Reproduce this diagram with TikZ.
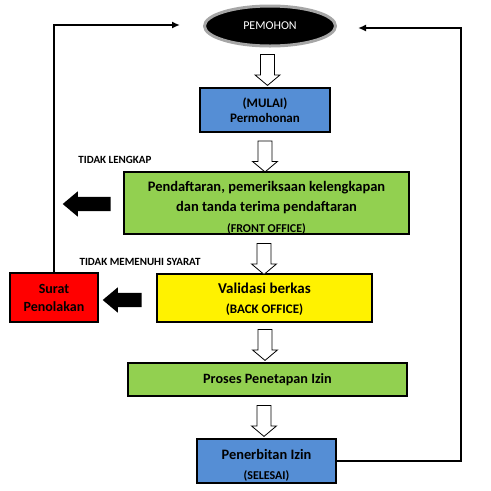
\documentclass[tikz,border=0pt]{standalone}
\usepackage{fontspec}
\setmainfont{Carlito}
\usetikzlibrary{shapes.geometric,shapes.arrows,arrows.meta}

\definecolor{boxblue}{RGB}{85,142,213}
\definecolor{boxgreen}{RGB}{146,208,80}

\tikzset{
  stepbox/.style={draw, line width=1.2pt, inner sep=0pt},
  hollow/.style={single arrow, draw, line width=0.8pt, fill=white, inner xsep=0pt, inner ysep=6.5pt,
    minimum width=25pt, minimum height=31pt, single arrow head extend=5.5pt,
    single arrow tip angle=100, rotate=-90},
  solid arrow/.style={single arrow, fill=black, inner xsep=0pt, inner ysep=7pt,
    minimum width=25pt, single arrow head extend=5.5pt,
    single arrow tip angle=80, rotate=180},
  conn/.style={line width=1.6pt, -{Latex[length=8pt,width=7pt]}},
  note/.style={font=\bfseries\fontsize{11}{13}\selectfont}
}

\begin{document}
\begin{tikzpicture}[x=1pt,y=-1pt]
  \useasboundingbox (0,0) rectangle (491,491);

  \node[ellipse, fill=black, draw=black!35, line width=3pt, minimum width=131pt,
    minimum height=40pt, text=white, font=\fontsize{12}{14}\selectfont] (pem) at (270,26) {PEMOHON};

  \node[stepbox, fill=boxblue, minimum width=130pt, minimum height=44pt, align=center,
    font=\bfseries\fontsize{13}{15}\selectfont] (mulai) at (265,110) {(MULAI)\\Permohonan};
  \node[stepbox, fill=boxgreen, minimum width=285pt, minimum height=62pt] (front) at (266.5,203) {};
  \node[stepbox, fill=red, minimum width=88pt, minimum height=49pt, align=center,
    font=\bfseries\fontsize{14}{18}\selectfont] (tolak) at (54,297.5) {Surat\\Penolakan};
  \node[stepbox, fill=yellow, minimum width=215pt, minimum height=48pt] (back) at (264.5,298) {};
  \node[stepbox, fill=boxgreen, minimum width=279pt, minimum height=33pt,
    font=\bfseries\fontsize{14.2}{16}\selectfont] (proses) at (267.5,379.5) {Proses Penetapan Izin};
  \node[stepbox, fill=boxblue, minimum width=139pt, minimum height=44pt] (izin) at (266.5,461) {};

  % texts of the boxes
  \begin{scope}
    \clip (front.north west) rectangle (front.south east);
    \node[align=center, font=\bfseries\fontsize{14.5}{20}\selectfont, anchor=north] (fronttxt) at (266.5,178)
      {Pendaftaran, pemeriksaan kelengkapan\\dan tanda terima pendaftaran\\[1pt]{\fontsize{12}{13}\selectfont(FRONT OFFICE)}};
  \end{scope}
  \node[align=center, font=\bfseries\fontsize{15}{20}\selectfont] (backtxt) at (264.5,299)
    {Validasi berkas\\{\fontsize{13}{13}\selectfont(BACK OFFICE)}};
  \begin{scope}
    \clip (izin.north west) rectangle (izin.south east);
    \node[align=center, font=\bfseries\fontsize{14.4}{20}\selectfont, anchor=north] (izintxt) at (266.5,446)
      {Penerbitan Izin\\{\fontsize{12}{13}\selectfont(SELESAI)}};
  \end{scope}

  \node[note] (lengkap) at (115,160) {TIDAK LENGKAP};
  \node[note] (syarat) at (140,262) {TIDAK MEMENUHI SYARAT};

  % flow arrows
  \node[hollow] (h1) at (267.5,67) {};
  \node[hollow] (h2) at (265,153.5) {};
  \node[hollow] (h3) at (264,256) {};
  \node[hollow] (h4) at (265,342) {};
  \node[hollow] (h5) at (264,418) {};
  \node[solid arrow, minimum height=48pt] (b1) at (91,204) {};
  \node[solid arrow, minimum height=39pt] (b2) at (126.5,300) {};

  % return lines
  \coordinate (inL) at (180,25);
  \coordinate (cornerR) at (461,28);
  \coordinate (inR) at (358,28);
  \draw[conn] (tolak.north) |- (inL);
  \draw[conn] (izin.east) -| (cornerR) -- (inR);
\end{tikzpicture}
\end{document}
